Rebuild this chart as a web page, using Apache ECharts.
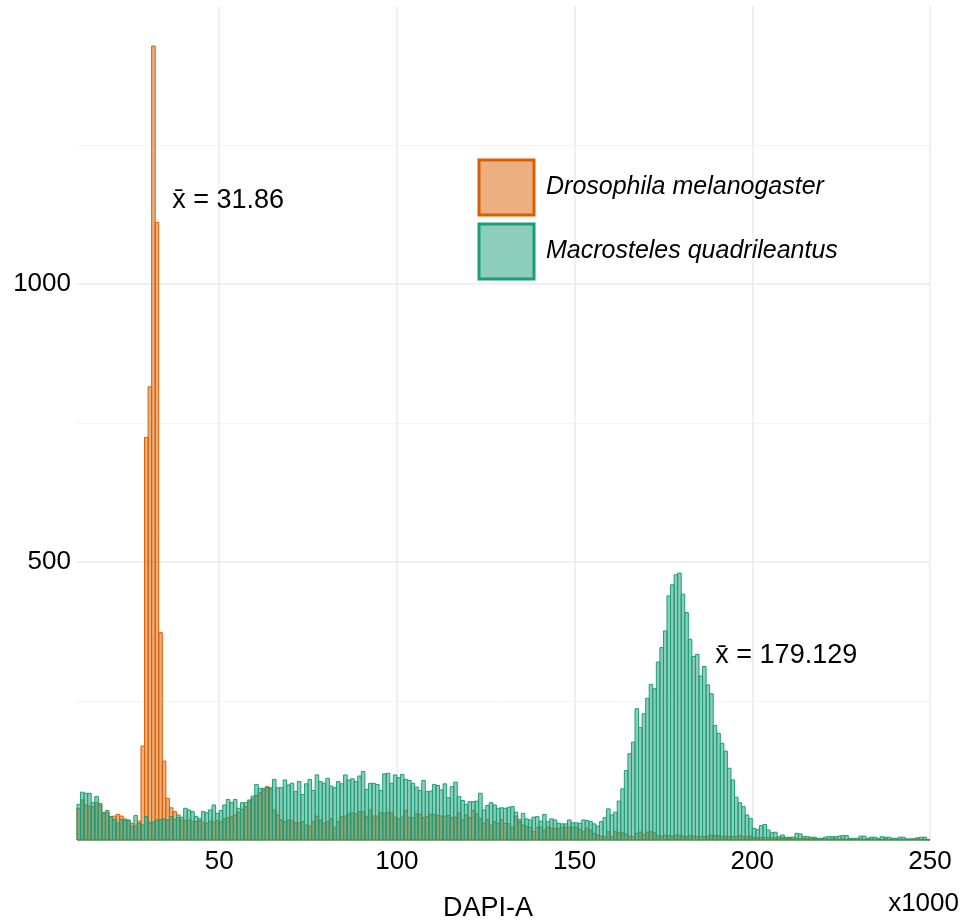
<!DOCTYPE html>
<html>
<head>
<meta charset="utf-8">
<script src="https://cdn.jsdelivr.net/npm/echarts@6/dist/echarts.min.js"></script>
<style>
  html, body { margin: 0; padding: 0; background: #ffffff; overflow: hidden; }
  #chart { width: 968px; height: 922px; }
</style>
</head>
<body>
<div id="chart"></div>
<script>
// DAPI-A histogram, bins of 1 (x1000) starting at 10
const binStart = 10;
const binWidth = 1;

const seriesNames = ['Drosophila melanogaster', 'Macrosteles quadrileantus'];

// Drosophila melanogaster counts per bin (10 .. 249)
const drosophilaCounts = [
  57, 72, 63, 61, 60, 67, 66, 49, 49, 42,      // 10-19
  43, 46, 43, 38, 36, 30, 25, 34, 169, 724,    // 20-29
  815, 1428, 1111, 373, 142, 75, 58, 51, 40, 36, // 30-39
  35, 36, 34, 33, 35, 32, 30, 34, 32, 35,      // 40-49
  33, 38, 40, 42, 45, 50, 55, 60, 70, 75,      // 50-59
  80, 85, 90, 96, 92, 54, 45, 36, 33, 36,      // 60-69
  35, 31, 31, 33, 27, 25, 33, 43, 36, 30,      // 70-79
  33, 38, 23, 33, 42, 43, 47, 49, 47, 51,      // 80-89
  51, 42, 54, 43, 43, 49, 48, 50, 49, 41,      // 90-99
  38, 41, 53, 41, 40, 47, 46, 40, 42, 46,      // 100-109
  46, 44, 43, 43, 44, 40, 41, 49, 36, 45,      // 110-119
  40, 53, 47, 39, 30, 37, 27, 33, 30, 37,      // 120-129
  30, 29, 23, 43, 33, 27, 25, 23, 15, 23,      // 130-139
  23, 18, 23, 21, 21, 21, 23, 23, 23, 23,      // 140-149
  23, 19, 15, 21, 18, 12, 9, 7, 6, 15,         // 150-159
  6, 15, 13, 13, 11, 7, 6, 12, 14, 10,         // 160-169
  14, 15, 13, 8, 7, 9, 8, 7, 9, 8,             // 170-179
  7, 6, 8, 7, 6, 7, 6, 7, 9, 8,                // 180-189
  8, 6, 7, 6, 6, 7, 8, 6, 6, 7,                // 190-199
  5, 4, 5, 4, 5, 4, 4, 3, 4, 3,                // 200-209
  3, 2, 3, 2, 3, 2, 2, 3, 2, 2,                // 210-219
  2, 1, 2, 2, 1, 2, 1, 2, 1, 1,                // 220-229
  2, 1, 1, 2, 1, 1, 1, 2, 1, 1,                // 230-239
  1, 1, 1, 1, 1, 2, 4, 1, 1, 0                 // 240-249
];

// Macrosteles quadrileantus counts per bin (10 .. 249)
const macrostelesCounts = [
  64, 86, 84, 84, 67, 78, 63, 49, 53, 42,      // 10-19
  37, 31, 37, 35, 35, 25, 44, 30, 27, 42,      // 20-29
  31, 32, 36, 37, 38, 36, 42, 37, 45, 41,      // 30-39
  57, 54, 51, 42, 39, 51, 49, 54, 63, 48,      // 40-49
  53, 63, 73, 67, 73, 57, 67, 67, 72, 79,      // 50-59
  100, 93, 93, 94, 94, 109, 94, 94, 108, 99,   // 60-69
  102, 87, 105, 82, 101, 109, 89, 117, 105, 102, // 70-79
  111, 97, 94, 105, 101, 117, 108, 110, 105, 115, // 80-89
  123, 91, 102, 102, 100, 89, 119, 120, 102, 117, // 90-99
  112, 118, 109, 107, 102, 95, 89, 107, 87, 88,  // 100-109
  100, 98, 90, 101, 76, 96, 104, 78, 71, 64,   // 110-119
  69, 69, 70, 84, 54, 62, 67, 63, 57, 58,      // 120-129
  57, 59, 60, 50, 37, 48, 38, 36, 41, 42,      // 130-139
  34, 46, 33, 38, 36, 30, 29, 29, 36, 31,      // 140-149
  31, 30, 36, 35, 33, 29, 25, 33, 40, 56,      // 150-159
  45, 50, 70, 92, 125, 155, 176, 236, 202, 227, // 160-169
  255, 280, 272, 320, 346, 376, 439, 459, 477, 480, // 170-179
  442, 409, 361, 330, 334, 295, 312, 279, 263, 206, // 180-189
  192, 174, 160, 129, 108, 77, 67, 60, 45, 39, // 190-199
  21, 19, 26, 28, 18, 13, 14, 6, 9, 5,         // 200-209
  5, 5, 12, 11, 6, 6, 5, 5, 3, 3,              // 210-219
  5, 6, 6, 6, 7, 8, 8, 3, 3, 3,                // 220-229
  7, 7, 3, 5, 5, 3, 6, 5, 5, 3,                // 230-239
  3, 5, 5, 2, 2, 2, 2, 5, 5, 1                 // 240-249
];

const xTickValues = [50, 100, 150, 200, 250];
const yTickValues = [500, 1000];

// Mean annotations: [label, x, count]
const meanLabels = [
  ['x\u0304 = 31.86', 36.8, 1150],
  ['x\u0304 = 179.129', 189.6, 331]
];

const colors = {
  drosophila: { line: '#D95F02', fill: 'rgba(217,95,2,0.5)' },
  macrosteles: { line: '#1B9E77', fill: 'rgba(27,158,119,0.5)' }
};

const FONT = "'Liberation Sans', Arial, sans-serif";

function toBins(counts) {
  return counts.map((c, i) => [binStart + i * binWidth, binStart + (i + 1) * binWidth, c]);
}

function histRenderer(col) {
  return function (params, api) {
    const topLeft = api.coord([api.value(0), api.value(2)]);
    const bottomRight = api.coord([api.value(1), 0]);
    return {
      type: 'rect',
      shape: {
        x: topLeft[0],
        y: topLeft[1],
        width: bottomRight[0] - topLeft[0],
        height: bottomRight[1] - topLeft[1]
      },
      style: { fill: col.fill, stroke: col.line, lineWidth: 1 }
    };
  };
}

const chart = echarts.init(document.getElementById('chart'), null, { renderer: 'canvas', width: 968, height: 922 });

const option = {
  animation: false,
  backgroundColor: '#ffffff',
  textStyle: { fontFamily: FONT },
  grid: { left: 77, right: 38, top: 6, bottom: 82, containLabel: false, outerBoundsMode: 'none' },
  legend: {
    orient: 'vertical',
    left: 477.5,
    top: 158.5,
    padding: 0,
    itemWidth: 55,
    itemHeight: 55,
    itemGap: 6,
    icon: 'rect',
    selectedMode: false,
    textStyle: { fontFamily: FONT, fontSize: 25, fontStyle: 'italic', color: '#000', padding: [0, 0, 0, 7] },
    data: [
      { name: seriesNames[0], itemStyle: { color: colors.drosophila.fill, borderColor: colors.drosophila.line, borderWidth: 3 } },
      { name: seriesNames[1], itemStyle: { color: colors.macrosteles.fill, borderColor: colors.macrosteles.line, borderWidth: 3 } }
    ]
  },
  xAxis: {
    type: 'value',
    min: 10,
    max: 250,
    name: 'DAPI-A',
    nameLocation: 'middle',
    nameGap: 55,
    nameTextStyle: { fontFamily: FONT, fontSize: 27, color: '#000', padding: [0, 31, 0, 0] },
    axisLine: { show: false },
    axisTick: { show: false, customValues: xTickValues },
    axisLabel: { customValues: xTickValues, fontFamily: FONT, fontSize: 26, color: '#000', margin: 9 },
    splitLine: { show: true, lineStyle: { color: '#EBEBEB', width: 1.5 } }
  },
  yAxis: {
    type: 'value',
    min: 0,
    max: 1500,
    interval: 500,
    axisLine: { show: false },
    axisTick: { show: false },
    axisLabel: {
      fontFamily: FONT, fontSize: 26, color: '#000', margin: 6,
      formatter: v => (yTickValues.indexOf(v) >= 0 ? String(v) : '')
    },
    splitLine: { show: true, showMaxLine: false, lineStyle: { color: '#EBEBEB', width: 1.5 } },
    minorTick: { show: false, splitNumber: 2 },
    minorSplitLine: { show: true, lineStyle: { color: '#F4F4F4', width: 1 } }
  },
  series: [
    {
      name: seriesNames[0],
      type: 'custom',
      renderItem: histRenderer(colors.drosophila),
      itemStyle: { color: colors.drosophila.fill, borderColor: colors.drosophila.line, borderWidth: 3 },
      encode: { x: [0, 1], y: 2 },
      data: toBins(drosophilaCounts),
      z: 2
    },
    {
      name: seriesNames[1],
      type: 'custom',
      renderItem: histRenderer(colors.macrosteles),
      itemStyle: { color: colors.macrosteles.fill, borderColor: colors.macrosteles.line, borderWidth: 3 },
      encode: { x: [0, 1], y: 2 },
      data: toBins(macrostelesCounts),
      z: 3
    }
  ]
};

chart.setOption(option);

// Mean labels and the axis multiplier, placed through the grid's coordinate system
const annotations = meanLabels.map(([text, x, y]) => {
  const p = chart.convertToPixel({ gridIndex: 0 }, [x, y]);
  return {
    type: 'text',
    x: p[0],
    y: p[1],
    z: 10,
    style: { text: text, fontFamily: FONT, fontSize: 27, fill: '#000', textAlign: 'left', textVerticalAlign: 'middle' }
  };
});
annotations.push({
  type: 'text',
  x: 959,
  y: 904,
  z: 10,
  style: { text: 'x1000', fontFamily: FONT, fontSize: 26, fill: '#000', textAlign: 'right', textVerticalAlign: 'middle' }
});

chart.setOption({ graphic: annotations });
</script>
</body>
</html>
